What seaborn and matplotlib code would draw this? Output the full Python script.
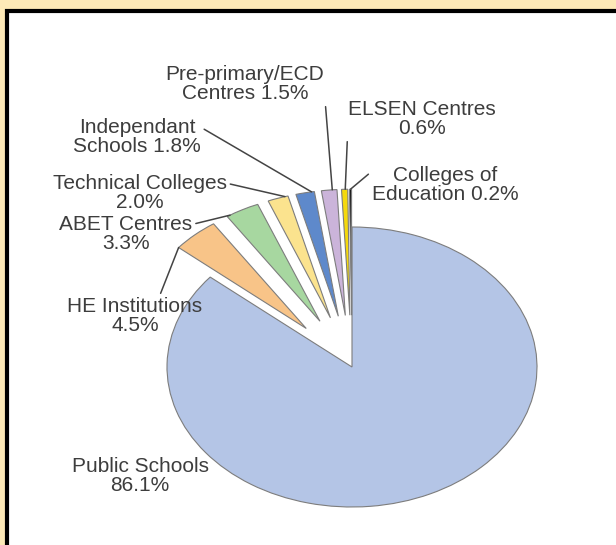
import numpy as np
import matplotlib.pyplot as plt
from matplotlib.patches import Rectangle
import seaborn as sns

# data
sectors = ["Public Schools", "HE Institutions", "ABET Centres", "Technical Colleges",
           "Independant Schools", "Pre-primary/ECD Centres", "ELSEN Centres",
           "Colleges of Education"]
shares = [86.1, 4.5, 3.3, 2.0, 1.8, 1.5, 0.6, 0.2]
label_text = ["Public Schools\n86.1%", "HE Institutions\n4.5%", "ABET Centres\n3.3%",
              "Technical Colleges\n2.0%", "Independant\nSchools 1.8%",
              "Pre-primary/ECD\nCentres 1.5%", "ELSEN Centres\n0.6%",
              "Colleges of\nEducation 0.2%"]
slice_colors = ["#b4c5e6", "#f8c488", "#a7d7a0", "#fbe38e", "#5e89cb", "#cbb4da",
                "#f5d90c", "#151515"]

sns.set_theme(style="white")
plt.rcParams['font.family'] = ['Liberation Sans', 'DejaVu Sans']

W, H = 616, 545
fig = plt.figure(figsize=(W / 100, H / 100), dpi=100)
fig.patch.set_facecolor("#fde9b7")

# white panel with black frame on top / left
bg = fig.add_axes([0, 0, 1, 1])
bg.set_xlim(0, W)
bg.set_ylim(H, 0)
bg.axis("off")
bg.add_patch(Rectangle((6.5, 10.5), W, H, facecolor="white", edgecolor="black", lw=3))

# pie, squashed vertically like the reference
cx, cy = 352, 367
a, b = 185, 140
k = b / a
ax = fig.add_axes([0, 0, 1, 1])
ax.patch.set_alpha(0)
pal = sns.color_palette(slice_colors)
wprops = dict(edgecolor="#7d7d7d", linewidth=0.8)

# big slice at full radius
big, _ = ax.pie(shares, colors=pal, startangle=90, counterclock=False, radius=a,
                center=(cx, (H - cy) / k), wedgeprops=wprops)
for w in big[1:]:
    w.set_visible(False)

# small slices: a bit shorter and pulled out (explode is in data units)
r2 = 0.9 * a
explode = [0.0] + [0.37 * a] * (len(shares) - 1)
small, _ = ax.pie(shares, colors=pal, startangle=90, counterclock=False, radius=r2,
                  center=(cx, (H - cy) / k), explode=explode, wedgeprops=wprops)
small[0].set_visible(False)

ax.set_aspect("auto")
ax.set_xlim(0, W)
ax.set_ylim(0, H / k)
ax.axis("off")

# label placement in image pixels (x, y from top), leader attach point on the
# text box, and where on the slice's outer arc the leader ends (0=theta1, 1=theta2)
label_pos = [(140, 476), (135, 316), (126, 234), (140, 193), (137, 137),
             (245, 84), (422, 119), (445, 185)]
relpos = [None, (0.68, 1.0), (1.0, 0.75), (1.0, 0.75), (1.0, 0.75),
          (1.0, 0.3), (0.0, 0.45), (0.0, 0.85)]
arc_t = [None, 1.0, 0.9, 0.15, 0.15, 0.3, 0.4, 0.5]

for ws, txt, (tx, ty), rp, t in zip(small, label_text, label_pos, relpos, arc_t):
    if rp is None:
        ax.annotate(txt, xy=(tx, H - ty), xycoords="figure pixels", ha="center",
                    va="center", fontsize=15, color="#3d3d3d", linespacing=1.05)
        continue
    ang = np.deg2rad(ws.theta1 + t * (ws.theta2 - ws.theta1))
    px = ws.center[0] + ws.r * np.cos(ang)
    py = ws.center[1] + ws.r * np.sin(ang)
    ax.annotate(txt, xy=(px, py), xytext=(tx, H - ty), textcoords="figure pixels",
                ha="center", va="center", fontsize=15, color="#3d3d3d",
                linespacing=1.05,
                arrowprops=dict(arrowstyle="-", color="#444444", lw=1.1,
                                relpos=rp, shrinkA=0, shrinkB=0))

fig.savefig("out.png", dpi=100, facecolor=fig.get_facecolor())
